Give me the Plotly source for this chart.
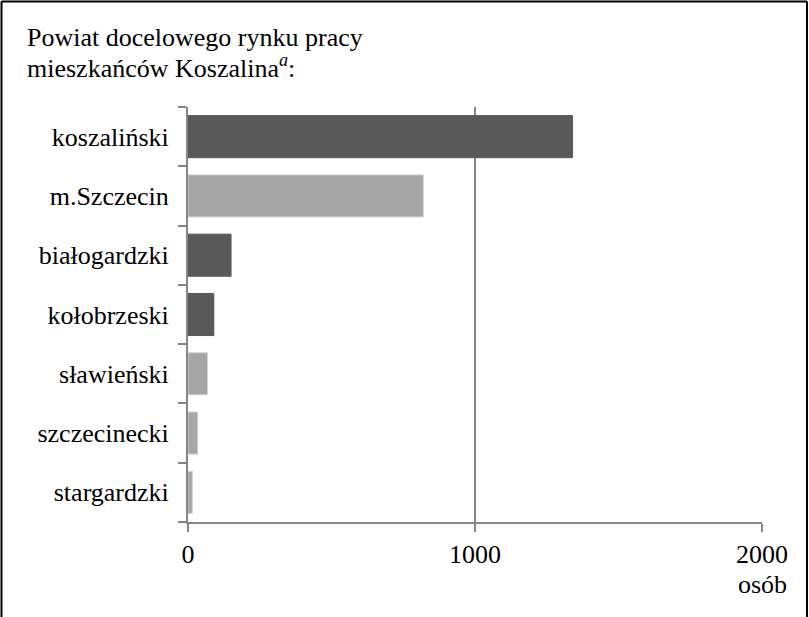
import plotly.graph_objects as go

# Powiaty, w których pracują mieszkańcy Koszalina (liczba osób)
powiaty = ["koszaliński", "m.Szczecin", "białogardzki", "kołobrzeski",
           "sławieński", "szczecinecki", "stargardzki"]
osoby = [1340, 820, 150, 90, 68, 34, 15]
grupa = ["ciemny", "jasny", "ciemny", "ciemny", "jasny", "jasny", "jasny"]
x_ticks = [0, 1000, 2000]
x_tick_labels = ["0", "1000", "2000"]

W, H = 809, 617
M_L, M_R, M_T, M_B = 188, 47, 107, 95
FONT = '"Liberation Serif", "DejaVu Serif"'
FS = 26
AXIS_GRAY = "#868686"

kolory = {"ciemny": "#595959", "jasny": "#a6a6a6"}
obrys = {"ciemny": "#595959", "jasny": "#d4d4d4"}

fig = go.Figure(go.Bar(
    x=osoby,
    y=powiaty,
    orientation="h",
    width=0.71,
    marker=dict(color=[kolory[g] for g in grupa],
                line=dict(color=[obrys[g] for g in grupa], width=1)),
    hoverinfo="x+y",
))

fig.update_layout(
    width=W, height=H,
    margin=dict(l=M_L, r=M_R, t=M_T, b=M_B, pad=0),
    paper_bgcolor="white",
    plot_bgcolor="white",
    showlegend=False,
    font=dict(family=FONT, size=FS, color="black"),
)

fig.update_xaxes(
    range=[0, 2000],
    tickvals=x_ticks,
    ticktext=x_tick_labels,
    showgrid=True, gridcolor=AXIS_GRAY, gridwidth=2,
    showline=True, linecolor=AXIS_GRAY, linewidth=2,
    ticks="outside", ticklen=8, tickwidth=2, tickcolor=AXIS_GRAY,
    zeroline=False,
    tickfont=dict(family=FONT, size=FS, color="black"),
)

fig.update_yaxes(
    type="category",
    categoryorder="array",
    categoryarray=powiaty[::-1],
    tickson="boundaries",
    showgrid=False,
    showline=True, linecolor=AXIS_GRAY, linewidth=2,
    ticks="outside", ticklen=8, tickwidth=2, tickcolor=AXIS_GRAY,
    ticklabelstandoff=12,
    tickfont=dict(family=FONT, size=FS, color="black"),
)

pw = W - M_L - M_R
ph = H - M_T - M_B

def px_x(px):
    return (px - M_L) / pw

def px_y(py):
    return 1 - (py - M_T) / ph

# Tytuł w dwóch wierszach
fig.add_annotation(text="Powiat docelowego rynku pracy",
                   xref="paper", yref="paper", x=px_x(25), y=px_y(37),
                   xanchor="left", yanchor="middle", showarrow=False,
                   font=dict(family=FONT, size=FS, color="black"))
fig.add_annotation(text="mieszkańców Koszalina<sup><i>a</i></sup>:",
                   xref="paper", yref="paper", x=px_x(25), y=px_y(66),
                   xanchor="left", yanchor="middle", showarrow=False,
                   font=dict(family=FONT, size=FS, color="black"))

# Jednostka osi
fig.add_annotation(text="osób", xref="x", yref="paper", x=2000, y=px_y(584),
                   xanchor="center", yanchor="middle", showarrow=False,
                   font=dict(family=FONT, size=FS, color="black"))

# Ramka wokół wykresu
ramka = dict(color="black", width=2)
fig.add_shape(type="line", xref="paper", yref="paper",
              x0=px_x(1.5), x1=px_x(1.5), y0=px_y(1.5), y1=px_y(H), line=ramka)
fig.add_shape(type="line", xref="paper", yref="paper",
              x0=px_x(1.5), x1=px_x(807), y0=px_y(1.5), y1=px_y(1.5), line=ramka)
fig.add_shape(type="line", xref="paper", yref="paper",
              x0=px_x(807), x1=px_x(807), y0=px_y(1.5), y1=px_y(H), line=ramka)

fig.write_html("out.html")
